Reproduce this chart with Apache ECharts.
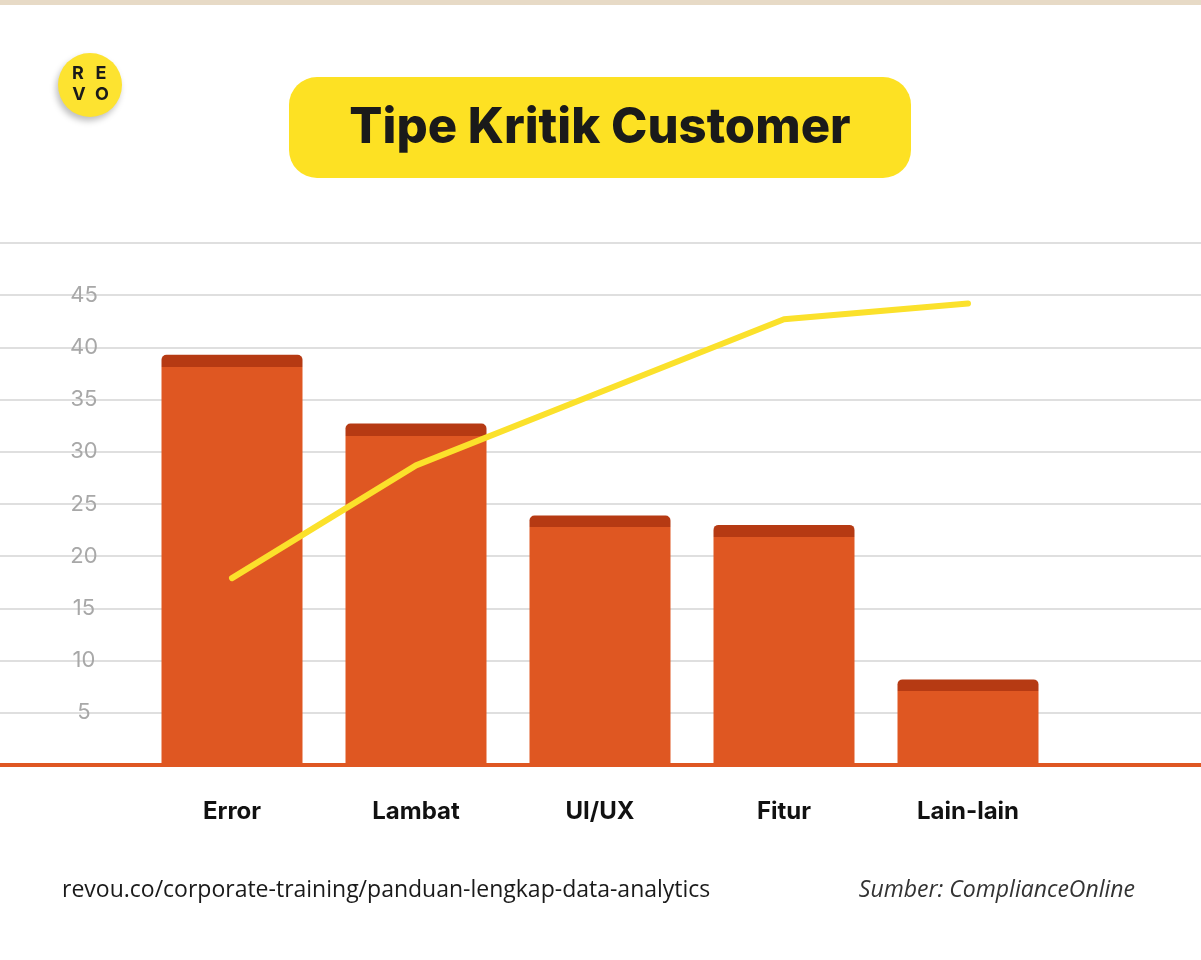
<!DOCTYPE html>
<html>
<head>
<meta charset="utf-8">
<title>Tipe Kritik Customer</title>
<script src="https://cdn.jsdelivr.net/npm/echarts@6/dist/echarts.min.js"></script>
<style>
  html, body { margin: 0; padding: 0; background: #fff; }
  #chart { width: 1201px; height: 960px; }
</style>
</head>
<body>
<div id="chart"></div>
<script>
var categories = ['Error', 'Lambat', 'UI/UX', 'Fitur', 'Lain-lain'];
var barValues = [39.3, 32.7, 23.9, 23.0, 8.2];
var lineValues = [17.9, 28.7, 35.7, 42.7, 44.2];
var yTicks = [5, 10, 15, 20, 25, 30, 35, 40, 45];

var plotTop = 243;
var plotBottom = 195;
var yMax = 50;
var pxPerUnit = (960 - plotTop - plotBottom) / yMax;
var capPx = 12;

// bar body with a darker strip on top
var barData = barValues.map(function (v) {
    var f = capPx / (v * pxPerUnit);
    return {
        value: v,
        itemStyle: {
            color: {
                type: 'linear', x: 0, y: 0, x2: 0, y2: 1,
                colorStops: [
                    { offset: 0, color: '#b63a13' },
                    { offset: f, color: '#b63a13' },
                    { offset: f, color: '#df5722' },
                    { offset: 1, color: '#df5722' }
                ]
            }
        }
    };
});

var chart = echarts.init(document.getElementById('chart'));

chart.setOption({
    backgroundColor: '#ffffff',
    animation: false,
    grid: [
        { left: 140, right: 141, top: plotTop, bottom: plotBottom },
        { left: 0, right: 0, top: plotTop, bottom: plotBottom }
    ],
    xAxis: [
        {
            type: 'category',
            gridIndex: 0,
            data: categories,
            axisLine: { show: false },
            axisTick: { show: false },
            axisLabel: {
                margin: 35,
                color: '#111',
                fontSize: 24,
                fontWeight: 'bold',
                fontFamily: 'Inter'
            }
        },
        {
            type: 'value',
            gridIndex: 1,
            min: 0,
            max: 1,
            axisLine: { show: true, onZero: false, lineStyle: { color: '#df5722', width: 4 } },
            axisTick: { show: false },
            axisLabel: { show: false },
            splitLine: { show: false }
        }
    ],
    yAxis: [
        {
            type: 'value',
            gridIndex: 0,
            min: 0,
            max: yMax,
            interval: 5,
            show: false
        },
        {
            type: 'value',
            gridIndex: 1,
            min: 0,
            max: yMax,
            interval: 5,
            axisLine: { show: false },
            axisTick: { show: false },
            splitLine: { show: true, lineStyle: { color: '#d4d4d4', width: 1.5 } },
            axisLabel: {
                inside: true,
                margin: 84,
                align: 'center',
                color: '#a8a8a8',
                fontSize: 22,
                fontFamily: 'Inter',
                formatter: function (v) {
                    return yTicks.indexOf(v) >= 0 ? String(v) : '';
                }
            }
        }
    ],
    series: [
        {
            type: 'bar',
            xAxisIndex: 0,
            yAxisIndex: 0,
            barWidth: 141,
            data: barData,
            itemStyle: { borderRadius: [5, 5, 0, 0] },
            z: 3
        },
        {
            type: 'line',
            xAxisIndex: 0,
            yAxisIndex: 0,
            data: lineValues,
            symbol: 'none',
            lineStyle: { color: '#fbe12b', width: 6, cap: 'round', join: 'round' },
            z: 5
        }
    ],
    graphic: [
        {
            type: 'rect',
            shape: { x: 0, y: 0, width: 1201, height: 5 },
            style: { fill: '#e7dac6' }
        },
        {
            type: 'circle',
            shape: { cx: 90, cy: 85, r: 32 },
            style: {
                fill: '#fde330',
                shadowBlur: 6,
                shadowColor: 'rgba(0,0,0,0.25)',
                shadowOffsetX: -2,
                shadowOffsetY: 4
            }
        },
        { type: 'text', x: 78, y: 74, style: { text: 'R', fill: '#1a1a1a', font: 'bold 18px Inter', align: 'center', verticalAlign: 'middle' } },
        { type: 'text', x: 101, y: 74, style: { text: 'E', fill: '#1a1a1a', font: 'bold 18px Inter', align: 'center', verticalAlign: 'middle' } },
        { type: 'text', x: 79, y: 95, style: { text: 'V', fill: '#1a1a1a', font: 'bold 18px Inter', align: 'center', verticalAlign: 'middle' } },
        { type: 'text', x: 102, y: 95, style: { text: 'O', fill: '#1a1a1a', font: 'bold 18px Inter', align: 'center', verticalAlign: 'middle' } },
        {
            type: 'rect',
            shape: { x: 289, y: 77, width: 622, height: 101, r: 28 },
            style: { fill: '#fde123' }
        },
        {
            type: 'text',
            x: 600,
            y: 128,
            style: {
                text: 'Tipe Kritik Customer',
                fill: '#1a1a1a',
                font: '800 49px Inter',
                align: 'center',
                verticalAlign: 'middle'
            }
        },
        {
            type: 'text',
            x: 62,
            y: 890,
            style: {
                text: 'revou.co/corporate-training/panduan-lengkap-data-analytics',
                fill: '#1a1a1a',
                font: '23px "Open Sans"',
                align: 'left',
                verticalAlign: 'middle'
            }
        },
        {
            type: 'text',
            x: 1135,
            y: 890,
            style: {
                text: 'Sumber: ComplianceOnline',
                fill: '#333',
                font: 'italic 23px "Open Sans"',
                align: 'right',
                verticalAlign: 'middle'
            }
        }
    ]
});
</script>
</body>
</html>
